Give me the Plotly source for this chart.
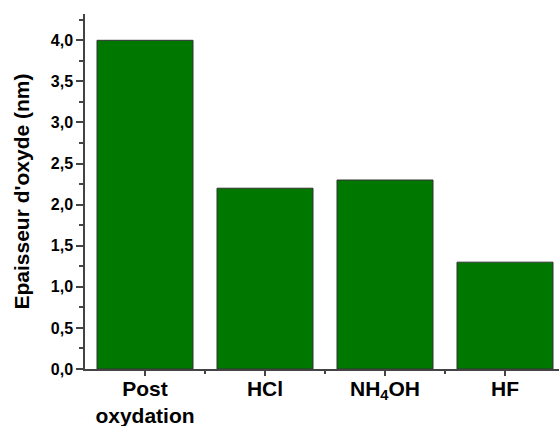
import plotly.graph_objects as go

categories = ["<b>Post</b><br><b>oxydation</b>", "<b>HCl</b>", "<b>NH<sub>4</sub>OH</b>", "<b>HF</b>"]
values = [4.0, 2.2, 2.3, 1.3]
y_tick_vals = [0.0, 0.5, 1.0, 1.5, 2.0, 2.5, 3.0, 3.5, 4.0]

xpos = list(range(len(categories)))

fig = go.Figure()
fig.add_trace(go.Bar(
    x=xpos, y=values, width=0.8,
    marker=dict(color="#007800", line=dict(color="#333333", width=1)),
))

axis_color = "#444444"
fig.update_layout(
    width=559, height=426,
    margin=dict(l=85, r=0, t=14, b=57),
    paper_bgcolor="white", plot_bgcolor="white",
    separators=",.",
    showlegend=False,
    font=dict(family="Liberation Sans, Arial, sans-serif", color="black"),
    xaxis=dict(
        range=[-0.5, 3.45], automargin=False,
        tickmode="array", tickvals=xpos, ticktext=categories,
        tickfont=dict(size=21, color="black"),
        ticklabelstandoff=-5,
        ticks="outside", ticklen=5, tickcolor=axis_color, tickwidth=1.5,
        showline=True, linecolor=axis_color, linewidth=1.5,
        showgrid=False, zeroline=False,
        minor=dict(tickmode="array", tickvals=[0.5, 1.5, 2.5], ticks="outside",
                   ticklen=3, tickcolor=axis_color, tickwidth=1.5, showgrid=False),
    ),
    yaxis=dict(
        range=[0, 4.32], automargin=False,
        tickmode="array", tickvals=y_tick_vals, tickformat=".1f",
        tickfont=dict(size=16, color="black", weight="bold"),
        ticks="outside", ticklen=7, tickcolor=axis_color, tickwidth=1.5,
        showline=True, linecolor=axis_color, linewidth=1.5,
        showgrid=False, zeroline=False,
        title=dict(text="<b>Epaisseur d'oxyde (nm)</b>", font=dict(size=21, color="black")),
        minor=dict(dtick=0.25, tick0=0, ticks="outside", ticklen=4,
                   tickcolor=axis_color, tickwidth=1.5, showgrid=False),
    ),
)

fig.write_html("out.html", config={"displayModeBar": False},
               post_script="document.body.style.margin='0px';")
